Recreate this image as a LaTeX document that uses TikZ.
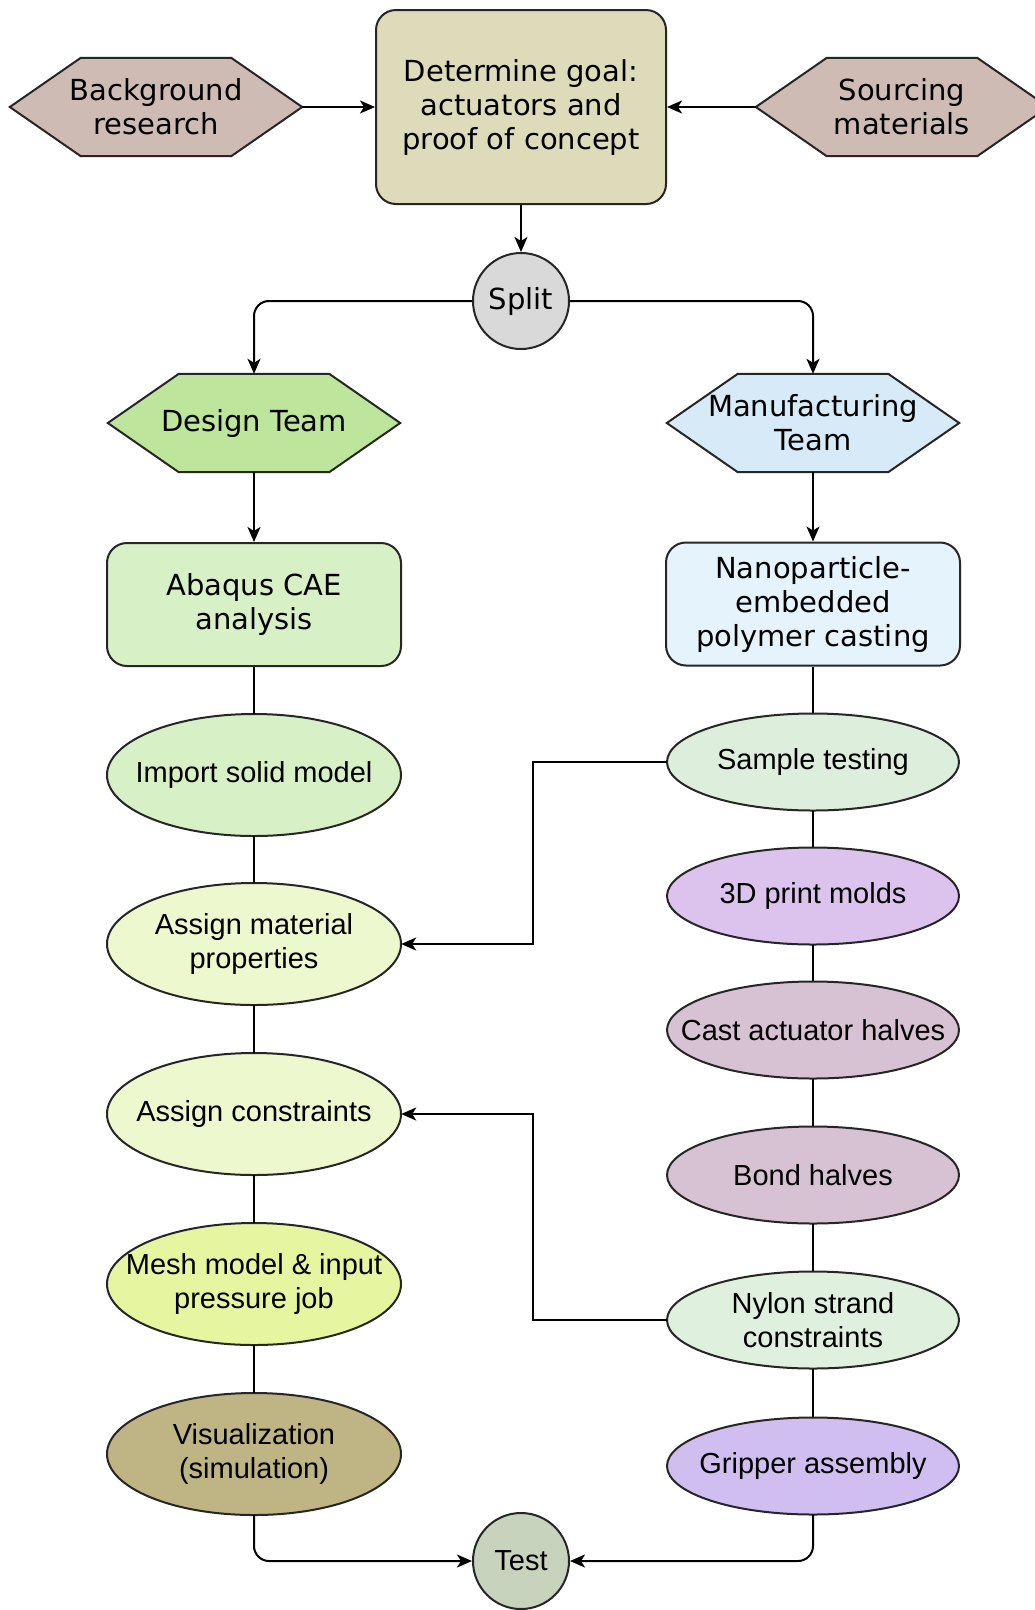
\documentclass[tikz,border=0pt]{standalone}
\usepackage{fontspec}
\setmainfont{DejaVu Sans}
\newfontfamily\hv{Liberation Sans}
\usetikzlibrary{arrows.meta,backgrounds}
\definecolor{bgbrown}{RGB}{206,188,180}
\definecolor{goalc}{RGB}{222,219,186}
\definecolor{splitc}{RGB}{217,217,217}
\definecolor{designc}{RGB}{189,229,155}
\definecolor{abaqusc}{RGB}{216,240,198}
\definecolor{mfgc}{RGB}{214,234,248}
\definecolor{nanoc}{RGB}{228,243,252}
\definecolor{samplec}{RGB}{222,238,220}
\definecolor{printc}{RGB}{220,195,238}
\definecolor{castc}{RGB}{215,194,212}
\definecolor{nylonc}{RGB}{224,240,222}
\definecolor{gripc}{RGB}{208,190,240}
\definecolor{assignc}{RGB}{238,248,206}
\definecolor{meshc}{RGB}{230,245,160}
\definecolor{visc}{RGB}{190,180,132}
\definecolor{testc}{RGB}{200,211,190}
\tikzset{
  shp/.style={draw=black!85, line width=2pt},
  dvfont/.style={font=\fontsize{29}{34}\selectfont},
  hvfont/.style={font=\hv\fontsize{29}{34}\selectfont},
  roundbox/.style={shp, rectangle, rounded corners=20pt, minimum width=294pt, minimum height=123pt, inner sep=0pt, align=center, dvfont},
  hexbox/.style={rectangle, minimum width=292pt, minimum height=98pt, inner sep=0pt, align=center, dvfont},
  lell/.style={rectangle, minimum width=294pt, minimum height=122pt, inner sep=0pt, align=center, hvfont},
  rell/.style={rectangle, minimum width=292pt, minimum height=97pt, inner sep=0pt, align=center, hvfont},
  circ/.style={shp, circle, minimum size=96pt, inner sep=0pt},
  conn/.style={line width=2pt, draw=black},
  arr/.style={conn, -{Stealth[length=15pt,width=13pt,inset=4pt]}},
}
\newcommand\hexbg[2]{\begin{scope}[on background layer]\draw[shp,fill=#2] (#1.west) -- ([xshift=71pt]#1.north west) -- ([xshift=-71pt]#1.north east) -- (#1.east) -- ([xshift=-71pt]#1.south east) -- ([xshift=71pt]#1.south west) -- cycle;\end{scope}}
\newcommand\ellbg[4]{\begin{scope}[on background layer]\draw[shp,fill=#4] (#1.center) ellipse [x radius=#2, y radius=#3];\end{scope}}
\begin{document}
\begin{tikzpicture}[x=1pt,y=-1pt]
\begin{scope}[on background layer]
  \fill[white] (0,0) rectangle (1035,1610);
\end{scope}
\useasboundingbox (0,0) rectangle (1035,1610);

% top row
\node[roundbox, fill=goalc, minimum width=290pt, minimum height=194pt] (goal) at (521,107) {Determine goal:\\actuators and\\proof of concept};
\node[hexbox] (bg) at (156,107) {Background\\research};
\hexbg{bg}{bgbrown}
\node[hexbox] (src) at (902,107) {Sourcing\\materials};
\hexbg{src}{bgbrown}
\node[circ, fill=splitc, dvfont] (split) at (521,301) {Split};

% teams
\node[hexbox] (design) at (254,423) {Design Team};
\hexbg{design}{designc}
\node[hexbox] (mfg) at (813,423) {Manufacturing\\Team};
\hexbg{mfg}{mfgc}

\node[roundbox, fill=abaqusc] (abaqus) at (254,604.5) {Abaqus CAE\\analysis};
\node[roundbox, fill=nanoc] (nano) at (813,604) {Nanoparticle-\\embedded\\polymer casting};

% left column
\node[lell] (imp) at (254,775) {Import solid model};
\ellbg{imp}{147}{61}{abaqusc}
\node[lell] (amat) at (254,944) {Assign material\\properties};
\ellbg{amat}{147}{61}{assignc}
\node[lell] (acon) at (254,1114) {Assign constraints};
\ellbg{acon}{147}{61}{assignc}
\node[lell] (mesh) at (254,1284) {Mesh model \& input\\pressure job};
\ellbg{mesh}{147}{61}{meshc}
\node[lell] (vis) at (254,1454) {Visualization\\(simulation)};
\ellbg{vis}{147}{61}{visc}

% right column
\node[rell] (samp) at (813,762) {Sample testing};
\ellbg{samp}{146}{48.5}{samplec}
\node[rell] (print) at (813,896) {3D print molds};
\ellbg{print}{146}{48.5}{printc}
\node[rell] (cast) at (813,1030) {Cast actuator halves};
\ellbg{cast}{146}{48.5}{castc}
\node[rell] (bond) at (813,1175) {Bond halves};
\ellbg{bond}{146}{48.5}{castc}
\node[rell] (nylon) at (813,1320) {Nylon strand\\constraints};
\ellbg{nylon}{146}{48.5}{nylonc}
\node[rell] (grip) at (813,1466) {Gripper assembly};
\ellbg{grip}{146}{48.5}{gripc}

\node[circ, fill=testc, hvfont] (test) at (521,1561) {Test};

% connectors
\draw[arr] (bg.east) -- (goal.west);
\draw[arr] (src.west) -- (goal.east);
\draw[arr] (goal.south) -- (split.north);
\draw[arr, rounded corners=15pt] (split.west) -| (design.north);
\draw[arr, rounded corners=15pt] (split.east) -| (mfg.north);
\draw[arr] (design.south) -- (abaqus.north);
\draw[arr] (mfg.south) -- (nano.north);

\draw[conn] (abaqus.south) -- (imp.north);
\draw[conn] (imp.south) -- (amat.north);
\draw[conn] (amat.south) -- (acon.north);
\draw[conn] (acon.south) -- (mesh.north);
\draw[conn] (mesh.south) -- (vis.north);

\draw[conn] (nano.south) -- (samp.north);
\draw[conn] (samp.south) -- (print.north);
\draw[conn] (print.south) -- (cast.north);
\draw[conn] (cast.south) -- (bond.north);
\draw[conn] (bond.south) -- (nylon.north);
\draw[conn] (nylon.south) -- (grip.north);

\draw[arr] (samp.west) -- ++(-134,0) |- (amat.east);
\draw[arr] (nylon.west) -- ++(-134,0) |- (acon.east);

\draw[arr, rounded corners=15pt] (vis.south) |- (test.west);
\draw[arr, rounded corners=15pt] (grip.south) |- (test.east);
\end{tikzpicture}
\end{document}
